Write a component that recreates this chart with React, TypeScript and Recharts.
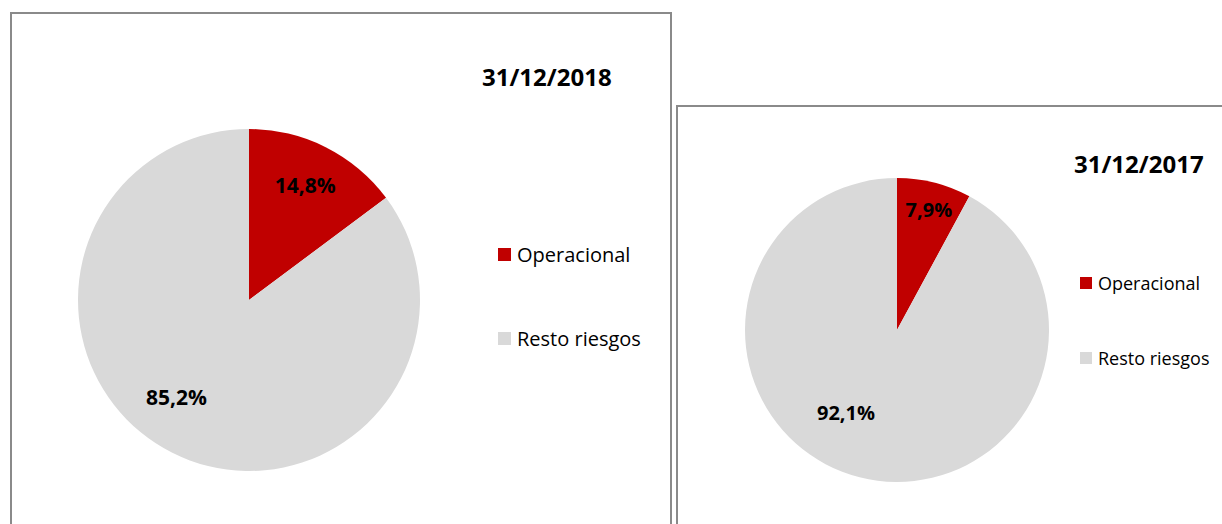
import React from 'react';
import { PieChart, Pie, Cell, Legend } from 'recharts';

const categories = ['Operacional', 'Resto riesgos'];
const values2018 = [14.8, 85.2];
const values2017 = [7.9, 92.1];
const titles = ['31/12/2018', '31/12/2017'];
const colors = ['#C00000', '#D9D9D9'];

const FONT = '"Open Sans", "Liberation Sans", sans-serif';

const makeData = (vals: number[]) => categories.map((name, i) => ({ name, value: vals[i] }));

const makeLabel = (fracs: number[], offsets: number[], fontSize: number) => (props: any) => {
  const { cx, cy, midAngle, outerRadius, index, value } = props;
  const ang = (midAngle + offsets[index]) * Math.PI / 180;
  const r = outerRadius * fracs[index];
  const x = cx + r * Math.cos(ang);
  const y = cy - r * Math.sin(ang);
  return (
    <text x={x} y={y} textAnchor="middle" dominantBaseline="central" fill="#000" fontWeight="bold" fontSize={fontSize} fontFamily={FONT}>
      {value.toFixed(1).replace('.', ',') + '%'}
    </text>
  );
};

const makeLegend = (gap: number, fontSize: number, square: number) => (props: any) => {
  const { payload } = props;
  return (
    <div style={{ fontFamily: FONT, fontSize }}>
      {(payload || []).map((p: any, i: number) => (
        <div key={i} style={{ display: 'flex', alignItems: 'center', height: 24, marginBottom: i === 0 ? gap - 24 : 0 }}>
          <span style={{ display: 'inline-block', width: square, height: square, background: p.color, marginRight: 6 }} />
          <span style={{ color: '#000', whiteSpace: 'nowrap' }}>{p.value}</span>
        </div>
      ))}
    </div>
  );
};

type PanelProps = {
  left: number; top: number; width: number; height: number;
  data: { name: string; value: number }[];
  cx: number; cy: number; r: number;
  title: string; titleLeft: number; titleTop: number; titleSize: number;
  legendLeft: number; legendTop: number; legendGap: number; legendSize: number; square: number;
  fracs: number[]; offsets: number[]; labelSize: number;
};

const Panel = (p: PanelProps) => (
  <div style={{ position: 'absolute', left: p.left, top: p.top, width: p.width, height: p.height, border: '2px solid #8a8a8a', boxSizing: 'border-box', background: '#fff' }}>
    <div style={{ position: 'absolute', left: 0, top: 0 }}>
      <PieChart width={p.width} height={p.height} margin={{ top: 0, right: 0, bottom: 0, left: 0 }}>
        <Pie
          data={p.data}
          dataKey="value"
          nameKey="name"
          cx={p.cx}
          cy={p.cy}
          outerRadius={p.r}
          startAngle={90}
          endAngle={-270}
          stroke="none"
          isAnimationActive={false}
          labelLine={false}
          label={makeLabel(p.fracs, p.offsets, p.labelSize)}
        >
          {p.data.map((d, i) => <Cell key={d.name} fill={colors[i]} />)}
        </Pie>
        <Legend
          layout="vertical"
          content={makeLegend(p.legendGap, p.legendSize, p.square)}
          wrapperStyle={{ position: 'absolute', left: p.legendLeft, top: p.legendTop, width: 'auto' }}
        />
      </PieChart>
    </div>
    <div style={{ position: 'absolute', left: p.titleLeft, top: p.titleTop, fontFamily: FONT, fontWeight: 'bold', fontSize: p.titleSize, color: '#000', whiteSpace: 'nowrap', lineHeight: 1 }}>
      {p.title}
    </div>
  </div>
);

export default function App() {
  return (
    <div style={{ position: 'absolute', left: 0, top: 0, width: 1222, height: 524, overflow: 'hidden', background: '#fff' }}>
      <Panel
        left={10} top={12} width={662} height={560}
        data={makeData(values2018)}
        cx={237} cy={286} r={171}
        title={titles[0]} titleLeft={470} titleTop={51} titleSize={24}
        legendLeft={486} legendTop={228} legendGap={84} legendSize={20} square={13}
        fracs={[0.75, 0.71]} offsets={[0.6, -10]} labelSize={21}
      />
      <Panel
        left={676} top={105} width={600} height={460}
        data={makeData(values2017)}
        cx={219} cy={223} r={152}
        title={titles[1]} titleLeft={396} titleTop={45} titleSize={24}
        legendLeft={402} legendTop={164} legendGap={75} legendSize={18} square={12}
        fracs={[0.82, 0.64]} offsets={[-0.6, -17.4]} labelSize={20}
      />
    </div>
  );
}
